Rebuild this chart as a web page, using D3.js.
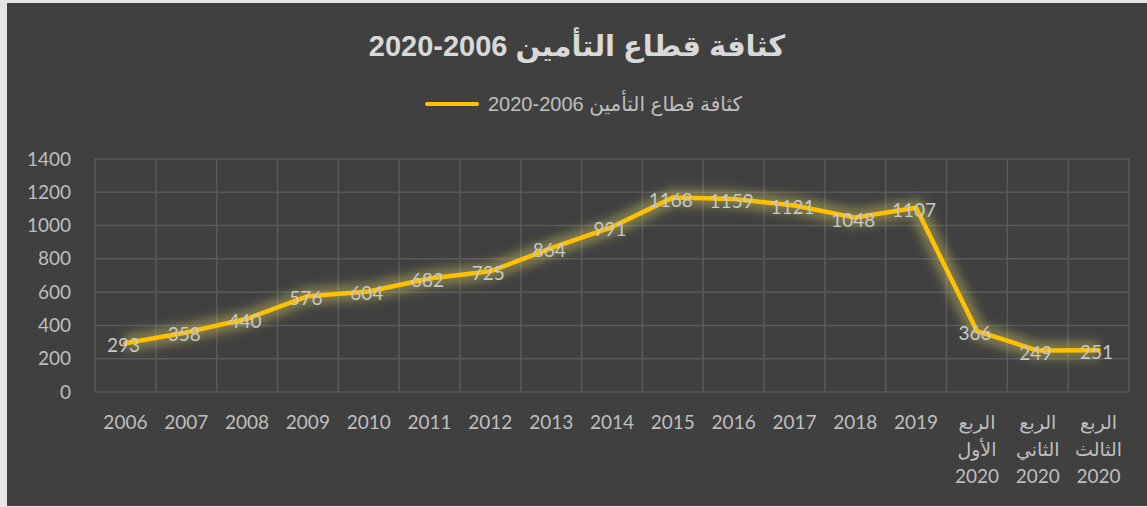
<!DOCTYPE html>
<html>
<head>
<meta charset="utf-8">
<script src="https://cdn.jsdelivr.net/npm/d3@7"></script>
<style>
  html, body { margin: 0; padding: 0; background: #e6e6e6; }
  svg { display: block; }
</style>
</head>
<body>
<div id="chart"></div>
<script>
// categories (x axis), each label split into lines
const categories = [
  ["2006"], ["2007"], ["2008"], ["2009"], ["2010"], ["2011"], ["2012"],
  ["2013"], ["2014"], ["2015"], ["2016"], ["2017"], ["2018"], ["2019"],
  ["الربع", "الأول", "2020"], ["الربع", "الثاني", "2020"], ["الربع", "الثالث", "2020"]
];
const values = [293, 358, 440, 576, 604, 682, 725, 864, 991, 1168, 1159, 1121, 1048, 1107, 366, 249, 251];
const yTicks = [0, 200, 400, 600, 800, 1000, 1200, 1400];
const titleText = "كثافة قطاع التأمين 2006-2020";
const seriesName = "كثافة قطاع التأمين 2006-2020";

const W = 1147, H = 507;
const margin = { top: 159, right: 18, bottom: 115, left: 95 };
const width = W - margin.left - margin.right,
      height = H - margin.top - margin.bottom;

const svg = d3.select("#chart").append("svg")
    .attr("width", W)
    .attr("height", H);

// chart background (light frame shows on left/top)
svg.append("rect")
    .attr("x", 7).attr("y", 3)
    .attr("width", W - 7).attr("height", H - 4)
    .attr("fill", "#404040");

const defs = svg.append("defs");
const glow = defs.append("filter").attr("id", "glow")
    .attr("x", "-10%").attr("y", "-30%").attr("width", "120%").attr("height", "160%");
glow.append("feGaussianBlur").attr("stdDeviation", 5);

// title
svg.append("text")
    .attr("x", 577).attr("y", 56)
    .attr("text-anchor", "middle")
    .style("direction", "rtl")
    .style("font-family", "'Liberation Sans', 'DejaVu Sans', Arial, sans-serif")
    .style("font-weight", "bold")
    .style("font-size", "29px")
    .style("fill", "#d9d9d9")
    .text(titleText);

// legend
svg.append("line")
    .attr("x1", 427).attr("x2", 477)
    .attr("y1", 104).attr("y2", 104)
    .attr("stroke", "#FFC000")
    .attr("stroke-width", 4)
    .attr("stroke-linecap", "round");
svg.append("text")
    .attr("x", 742).attr("y", 111)
    .attr("text-anchor", "start")
    .style("direction", "rtl")
    .style("font-family", "'Liberation Sans', 'DejaVu Sans', Arial, sans-serif")
    .style("font-size", "20px")
    .style("fill", "#bfbfbf")
    .text(seriesName);

const g = svg.append("g")
    .attr("transform", `translate(${margin.left},${margin.top})`);

const x = d3.scaleBand()
    .domain(d3.range(categories.length))
    .range([0, width]);

const y = d3.scaleLinear()
    .domain([0, 1400])
    .range([height, 0]);

// horizontal gridlines
g.append("g")
    .selectAll("line")
    .data(yTicks)
    .join("line")
    .attr("x1", 0).attr("x2", width)
    .attr("y1", d => y(d)).attr("y2", d => y(d))
    .attr("stroke", "#5a5a5a")
    .attr("stroke-width", 1.5);

// vertical gridlines at category boundaries
g.append("g")
    .selectAll("line")
    .data(d3.range(categories.length + 1))
    .join("line")
    .attr("x1", d => d * x.step()).attr("x2", d => d * x.step())
    .attr("y1", 0).attr("y2", height)
    .attr("stroke", "#5a5a5a")
    .attr("stroke-width", 1.5);

// y axis labels
const yAxis = g.append("g")
    .call(d3.axisLeft(y).tickValues(yTicks).tickFormat(d3.format("d")).tickSize(0).tickPadding(24));
yAxis.select(".domain").remove();
yAxis.selectAll("text")
    .style("font-family", "Lato, 'DejaVu Sans', sans-serif")
    .style("font-size", "19px")
    .style("fill", "#bfbfbf");

// x axis labels (multi-line)
const xLabels = g.append("g")
    .selectAll("text")
    .data(categories)
    .join("text")
    .attr("x", (d, i) => x(i) + x.bandwidth() / 2)
    .attr("y", height + 37)
    .attr("text-anchor", "middle")
    .style("font-family", "Lato, 'DejaVu Sans', sans-serif")
    .style("font-size", "19px")
    .style("fill", "#bfbfbf");
xLabels.selectAll("tspan")
    .data(d => d)
    .join("tspan")
    .attr("x", function() { return d3.select(this.parentNode).attr("x"); })
    .attr("dy", (d, i) => i === 0 ? 0 : 27)
    .style("direction", "rtl")
    .text(d => d);

const line = d3.line()
    .x((d, i) => x(i) + x.bandwidth() / 2)
    .y(d => y(d));

// glow under the line
g.append("path")
    .datum(values)
    .attr("d", line)
    .attr("fill", "none")
    .attr("stroke", "#d8cf60")
    .attr("stroke-opacity", 0.4)
    .attr("stroke-width", 18)
    .attr("stroke-linejoin", "round")
    .attr("filter", "url(#glow)");

g.append("path")
    .datum(values)
    .attr("d", line)
    .attr("fill", "none")
    .attr("stroke", "#FFC000")
    .attr("stroke-width", 4.5)
    .attr("stroke-linejoin", "round")
    .attr("stroke-linecap", "round");

// data labels
g.append("g")
    .selectAll("text")
    .data(values)
    .join("text")
    .attr("x", (d, i) => x(i) + x.bandwidth() / 2 - 2)
    .attr("y", d => y(d) + 9)
    .attr("text-anchor", "middle")
    .style("font-family", "Lato, 'DejaVu Sans', sans-serif")
    .style("font-size", "19px")
    .style("fill", "#c8c8c8")
    .text(d => d);
</script>
</body>
</html>
